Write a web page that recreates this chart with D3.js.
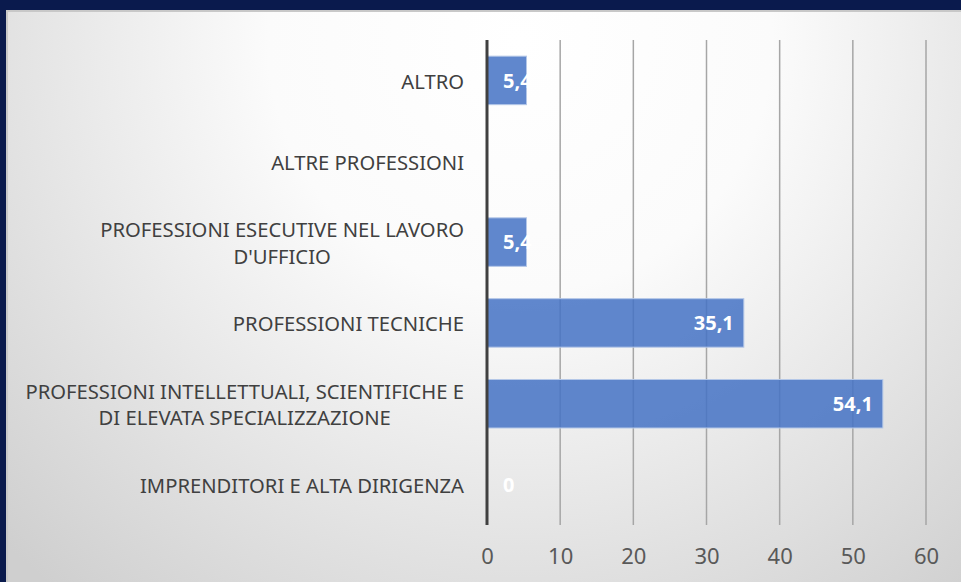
<!DOCTYPE html>
<html><head><meta charset="utf-8">
<script src="https://cdn.jsdelivr.net/npm/d3@7"></script>
<style>html,body{margin:0;padding:0;background:#0a1a4d;}svg{display:block;}</style>
</head><body>
<svg id="c" width="961" height="582"></svg>
<script>
const categories = [
  ["ALTRO"],
  ["ALTRE PROFESSIONI"],
  ["PROFESSIONI ESECUTIVE NEL LAVORO", "D'UFFICIO"],
  ["PROFESSIONI TECNICHE"],
  ["PROFESSIONI INTELLETTUALI, SCIENTIFICHE E", "DI ELEVATA SPECIALIZZAZIONE"],
  ["IMPRENDITORI E ALTA DIRIGENZA"]
];
const values = [5.4, null, 5.4, 35.1, 54.1, 0];
const valueLabels = ["5,4", "", "5,4", "35,1", "54,1", "0"];
const xTicks = [0, 10, 20, 30, 40, 50, 60];

const FONT = "'Noto Sans', 'Open Sans', sans-serif";
const svg = d3.select("#c");
const W = 961, H = 582;
const defs = svg.append("defs");
const rg = defs.append("radialGradient").attr("id","bg")
  .attr("gradientUnits","userSpaceOnUse").attr("cx",520).attr("cy",40).attr("r",720);
rg.append("stop").attr("offset","0%").attr("stop-color","#ffffff");
rg.append("stop").attr("offset","35%").attr("stop-color","#fbfbfb");
rg.append("stop").attr("offset","100%").attr("stop-color","#cfcfcf");

svg.append("rect").attr("width",W).attr("height",H).attr("fill","#0a1a4d");
svg.append("rect").attr("x",6).attr("y",10).attr("width",W-6).attr("height",H-10).attr("fill","#c8c8c8");
svg.append("rect").attr("x",8).attr("y",12).attr("width",W-8).attr("height",H-12).attr("fill","url(#bg)");

const x = d3.scaleLinear().domain([0,60]).range([487,926]);
const y = d3.scaleBand().domain(d3.range(categories.length)).range([40,525]).paddingInner(0.4).paddingOuter(0.2);
const band = d3.scaleBand().domain(d3.range(categories.length)).range([40,525]);

// gridlines
svg.append("g").selectAll("line").data(xTicks.slice(1)).join("line")
  .attr("x1",d=>x(d)).attr("x2",d=>x(d)).attr("y1",40).attr("y2",525)
  .attr("stroke","#a6a6a6").attr("stroke-width",1.5);

// bars
const data = values.map((v,i)=>({v,i,label:valueLabels[i]}));
svg.append("g").selectAll("rect").data(data.filter(d=>d.v!==null && d.v>0)).join("rect")
  .attr("x",x(0)).attr("y",d=>y(d.i)).attr("width",d=>x(d.v)-x(0)).attr("height",y.bandwidth())
  .attr("fill","#4472c4").attr("fill-opacity",0.85)
  .attr("stroke","#b4c7e7").attr("stroke-width",1);

// zero axis
svg.append("line").attr("x1",x(0)).attr("x2",x(0)).attr("y1",40).attr("y2",525)
  .attr("stroke","#404040").attr("stroke-width",3);

// data labels
const lg = svg.append("g").attr("font-family",FONT)
  .attr("font-size",20).attr("font-weight","bold").attr("fill","#ffffff");
data.filter(d=>d.v!==null).forEach(d=>{
  const w = x(d.v)-x(0);
  const t = lg.append("text").attr("y",band(d.i)+band.bandwidth()/2).attr("dy","0.36em").text(d.label);
  const tw = t.node().getComputedTextLength();
  if (w > tw + 30) {
    t.attr("x", x(d.v)-10).attr("text-anchor","end");
  } else {
    t.attr("x", x(0)+16).attr("text-anchor","start");
  }
});

// category labels: size so that the widest line spans ~439px
const cg = svg.append("g").attr("font-family",FONT).attr("fill","#404040");
const probe = cg.append("text").attr("font-size",20).text("PROFESSIONI INTELLETTUALI, SCIENTIFICHE E");
let fs = 20 * 439 / probe.node().getComputedTextLength();
fs = Math.max(15, Math.min(22, fs));
probe.remove();
cg.attr("font-size", fs);
categories.forEach((lines,i)=>{
  const cy = band(i)+band.bandwidth()/2;
  const lh = 26.7;
  const t = cg.append("text").attr("text-anchor","middle");
  const tmp = lines.map(s=>{const n=cg.append("text").text(s);const w=n.node().getComputedTextLength();n.remove();return w;});
  const maxW = d3.max(tmp);
  const cx = 464 - maxW/2;
  lines.forEach((s,k)=>{
    t.append("tspan").attr("x",cx).attr("y",cy + 1 + (k-(lines.length-1)/2)*lh).attr("dy","0.36em").text(s);
  });
});

// x axis labels
const xAxis = d3.axisBottom(x).tickValues(xTicks).tickSize(0).tickPadding(0);
const ax = svg.append("g").attr("transform","translate(0,556)").call(xAxis);
ax.select(".domain").remove();
ax.selectAll("text").attr("font-family",FONT).attr("font-size",22).attr("fill","#595959").attr("dy","0.36em");
</script>
</body></html>
